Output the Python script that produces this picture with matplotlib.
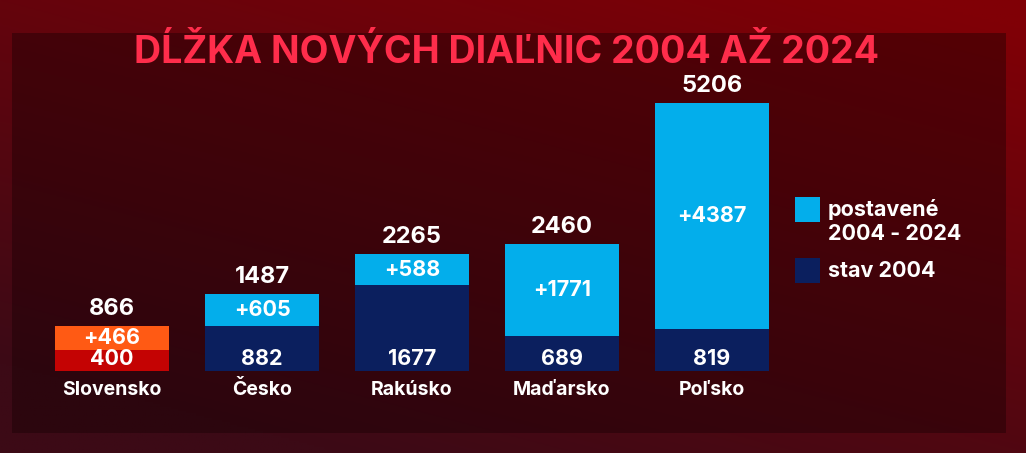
import numpy as np
import matplotlib.pyplot as plt
from matplotlib.patches import Rectangle

# Data (km of motorway)
countries = ['Slovensko', 'Česko', 'Rakúsko', 'Maďarsko', 'Poľsko']
stav_2004 = [400, 882, 1677, 689, 819]
postavene = [466, 605, 588, 1771, 4387]
totals = [866, 1487, 2265, 2460, 5206]

title = 'DĹŽKA NOVÝCH DIAĽNIC 2004 AŽ 2024'
legend_labels = ['postavené\n2004 - 2024', 'stav 2004']

# Colours
light_blue = '#03aeeb'
navy = '#0b1f5e'
sk_top = '#ff5a14'
sk_base = '#c40303'
title_red = '#ff2d4b'

plt.rcParams['font.family'] = ['Inter', 'DejaVu Sans']

W, H = 1026, 453
fig = plt.figure(figsize=(W / 100, H / 100), dpi=100)

# Background gradient (purple-ish left/bottom, red top-right)
bg = fig.add_axes([0, 0, 1, 1])
yy, xx = np.mgrid[0:1:200j, 0:1:400j]
t = np.clip(0.45 * xx + 0.75 * yy - 0.15, 0, 1)
c0 = np.array([0x3c, 0x0a, 0x16]) / 255
c1 = np.array([0x80, 0x00, 0x06]) / 255
img = c0[None, None, :] * (1 - t[..., None]) + c1[None, None, :] * t[..., None]
bg.imshow(img, extent=[0, 1, 0, 1], aspect='auto', origin='lower')
bg.set_xlim(0, 1)
bg.set_ylim(0, 1)
bg.axis('off')

# Darker panel
bg.add_patch(Rectangle((12 / W, 1 - 433 / H), (1006 - 12) / W, (433 - 33) / H,
                       facecolor='#160003', alpha=0.4, edgecolor='none'))

# Main axes mapped so bars sit where they do in the picture
ax = fig.add_axes([0, 0, 1, 1])
ax.patch.set_alpha(0)
x0_px, step_px, base_px = 112, 150, 371
px_per_unit = 268 / 5206
ax.set_xlim(-x0_px / step_px, (W - x0_px) / step_px)
ax.set_ylim(-(H - base_px) / px_per_unit, base_px / px_per_unit)
ax.axis('off')

x = np.arange(len(countries))
width = 0.76
base_colors = [sk_base] + [navy] * 4
top_colors = [sk_top] + [light_blue] * 4
ax.bar(x, stav_2004, width, color=base_colors)
ax.bar(x, postavene, width, bottom=stav_2004, color=top_colors)

lab = dict(color='white', fontweight='bold', ha='center', va='center')
for i in x:
    ax.text(i, totals[i] + 330, str(totals[i]), fontsize=17, **lab)
    ax.text(i, stav_2004[i] + postavene[i] / 2, '+' + str(postavene[i]), fontsize=15.5, **lab)
    ax.text(i, 240, str(stav_2004[i]), fontsize=15.5, **lab)
    ax.text(i, -360, countries[i], fontsize=14, **lab)

# Title
fig.text(507 / W, 1 - 53 / H, title, color=title_red, fontsize=27,
         fontweight='bold', ha='center', va='center')

# Legend
for (ytop, col) in [(197, light_blue), (258, navy)]:
    fig.add_artist(Rectangle((795 / W, 1 - (ytop + 25) / H), 25 / W, 25 / H,
                             transform=fig.transFigure, facecolor=col, edgecolor='none'))
fig.text(828 / W, 1 - 221 / H, legend_labels[0], color='white', fontsize=15.5,
         fontweight='bold', ha='left', va='center', linespacing=1.25)
fig.text(828 / W, 1 - 271 / H, legend_labels[1], color='white', fontsize=15.5,
         fontweight='bold', ha='left', va='center')

fig.savefig('out.png', dpi=100)
